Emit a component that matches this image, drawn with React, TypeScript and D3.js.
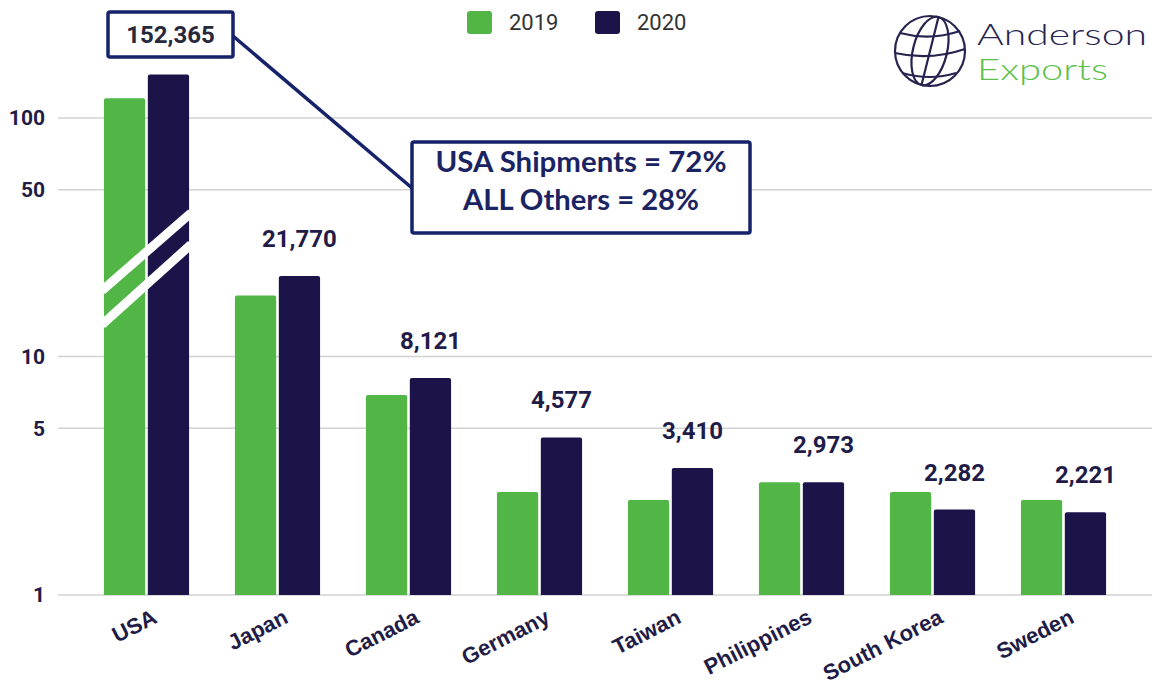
import React from "react";
import * as d3 from "d3";

const categories = ["USA", "Japan", "Canada", "Germany", "Taiwan", "Philippines", "South Korea", "Sweden"];
const series = ["2019", "2020"];
const values2019 = [121, 18.0, 6.9, 2.7, 2.5, 2.97, 2.7, 2.5];
const values2020 = [152.365, 21.77, 8.121, 4.577, 3.41, 2.973, 2.282, 2.221];
const yTicks = [1, 5, 10, 50, 100];
const calloutLines = ["USA Shipments = 72%", "ALL Others = 28%"];

const GREEN = "#52b647";
const NAVY = "#1c1349";
const TEXT = "#1f1c48";
const BOX = "#16226a";

export default function App() {
  const W = 1154, H = 694;
  const y = d3.scaleLog().domain([1, 100]).range([595, 118]);
  const x0 = d3.scaleBand<string>().domain(categories).range([81, 1129]).paddingInner(0.35).paddingOuter(0.175);
  const x1 = d3.scaleBand<string>().domain(series).range([0, x0.bandwidth()]).paddingInner(0.06);
  const fmt = d3.format(",");
  const vals = [values2019, values2020];
  const colors = [GREEN, NAVY];

  const usaX = x0("USA")!;
  const bw = x1.bandwidth();
  const breakLeft = usaX - 2;
  const breakRight = usaX + x0.bandwidth() + 2;

  return (
    <svg width={W} height={H} style={{ position: "absolute", left: 0, top: 0, background: "#fff" }}>
      {/* gridlines */}
      {yTicks.map((t) => (
        <g key={t}>
          <line x1={58} x2={1152} y1={y(t)} y2={y(t)} stroke="#d2d2d2" strokeWidth={1.5} />
          <text x={45} y={y(t)} dy="0.35em" textAnchor="end" fontFamily="Roboto, 'Liberation Sans', sans-serif" fontWeight={700} fontSize={21} fill={TEXT}>{t}</text>
        </g>
      ))}

      {/* bars */}
      {categories.map((c, i) => (
        <g key={c} transform={`translate(${x0(c)},0)`}>
          {series.map((s, j) => {
            const v = vals[j][i];
            const top = y(v);
            return <path key={s} d={`M${x1(s)!},${y(1)} V${top + 2} Q${x1(s)!},${top} ${x1(s)! + 2},${top} H${x1(s)! + bw - 2} Q${x1(s)! + bw},${top} ${x1(s)! + bw},${top + 2} V${y(1)} Z`} fill={colors[j]} />;
          })}
        </g>
      ))}

      {/* axis break stripes on USA */}
      <line x1={breakLeft} y1={y(18.9)} x2={breakRight} y2={y(40)} stroke="#fff" strokeWidth={9} />
      <line x1={breakLeft} y1={y(13.6)} x2={breakRight} y2={y(29.5)} stroke="#fff" strokeWidth={9} />

      {/* data labels 2020 */}
      {categories.map((c, i) => (i === 0 ? null : (
        <text key={c} x={x0(c)! + x1("2020")! + bw / 2} y={y(values2020[i]) - 29} textAnchor="middle" fontFamily="Roboto, 'Liberation Sans', sans-serif" fontWeight={700} fontSize={24} fill={TEXT}>{fmt(Math.round(values2020[i] * 1000))}</text>
      )))}

      {/* x labels */}
      {categories.map((c) => (
        <text key={c} transform={`translate(${x0(c)! + x0.bandwidth() / 2 + 12},622) rotate(-27)`} textAnchor="end" fontFamily="'Liberation Sans', Arial, sans-serif" fontWeight={700} fontSize={22} fill={TEXT}>{c}</text>
      ))}

      {/* legend */}
      {series.map((s, j) => (
        <g key={s} transform={`translate(${467 + j * 128},11)`}>
          <rect width={25} height={23} rx={3} fill={colors[j]} />
          <text x={42} y={11.5} dy="0.36em" fontFamily="Roboto, sans-serif" fontSize={22} fill="#333">{s}</text>
        </g>
      ))}

      {/* callout */}
      <line x1={233} y1={36} x2={412} y2={188} stroke={BOX} strokeWidth={3.5} />
      <rect x={108} y={12} width={125} height={45} fill="#fff" stroke={BOX} strokeWidth={3.5} rx={2} />
      <text x={170.5} y={43} textAnchor="middle" fontFamily="Roboto, sans-serif" fontWeight={700} fontSize={24} fill="#28283c">{fmt(Math.round(values2020[0] * 1000))}</text>
      <rect x={412} y={142} width={338} height={91} fill="#fff" stroke={BOX} strokeWidth={3.5} rx={2} />
      {calloutLines.map((l, k) => (
        <text key={l} x={581} y={172 + k * 38} textAnchor="middle" fontFamily="Lato, 'Open Sans', sans-serif" fontWeight={700} fontSize={28} fill="#1b2462" textLength={k === 0 ? 291 : 236} lengthAdjust="spacingAndGlyphs">{l}</text>
      ))}

      {/* logo */}
      <g transform="translate(930,51)" fill="none" stroke="#26244f" strokeWidth={2.2}>
        <circle r={35} />
        <g transform="rotate(14)">
          <ellipse rx={17} ry={35} />
          <line x1={0} y1={-35} x2={0} y2={35} />
        </g>
        <path d="M-30,-18 Q0,-10 30,-20" />
        <path d="M-35,2 Q0,10 35,-2" />
        <path d="M-28,22 Q0,30 26,22" />
      </g>
      <text x={977} y={45} fontFamily="Lato, 'Open Sans', sans-serif" fontWeight={300} fontSize={29} fill="#26244f" textLength={170} lengthAdjust="spacingAndGlyphs">Anderson</text>
      <text x={977} y={80} fontFamily="Lato, 'Open Sans', sans-serif" fontWeight={300} fontSize={29} fill="#5cbf4a" textLength={131} lengthAdjust="spacingAndGlyphs">Exports</text>
    </svg>
  );
}
